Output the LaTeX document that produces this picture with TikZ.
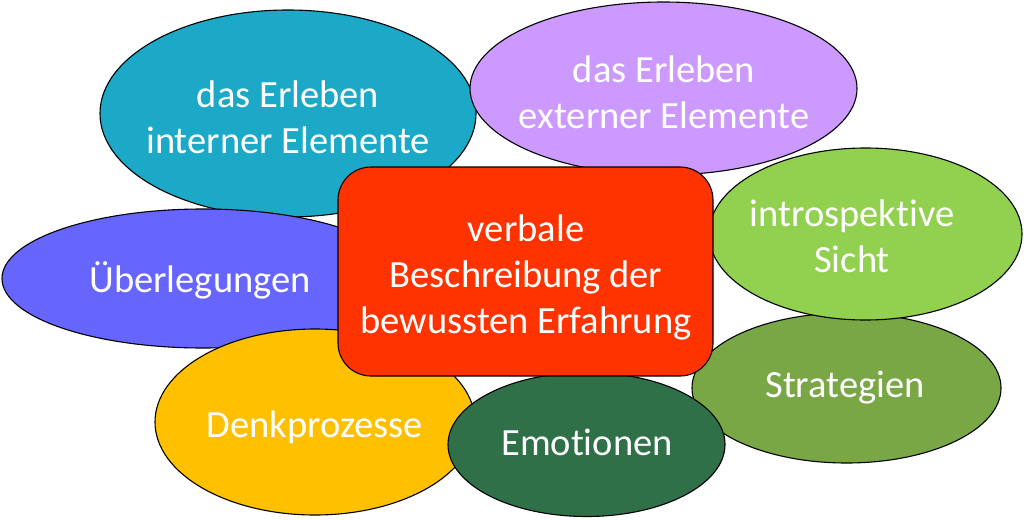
\documentclass[tikz,border=0pt]{standalone}
\usepackage{fontspec}
\setmainfont{Carlito}[Ligatures=NoCommon]
\usetikzlibrary{shapes.geometric}
\definecolor{cteal}{HTML}{1BA9C7}
\definecolor{cpurple}{HTML}{CC99FF}
\definecolor{clgreen}{HTML}{92D050}
\definecolor{cblue}{HTML}{6666FF}
\definecolor{cyellow}{HTML}{FFC000}
\definecolor{cdgreen}{HTML}{2F7049}
\definecolor{colive}{HTML}{79A746}
\definecolor{cred}{HTML}{FF3300}
\begin{document}
\begin{tikzpicture}[x=1pt,y=-1pt,
  blob/.style={ellipse, draw=black, line width=1.1pt, inner sep=0pt},
  centerbox/.style={rectangle, rounded corners=33pt, draw=black, line width=1.1pt, inner sep=0pt, fill=cred, minimum width=375pt, minimum height=209pt},
  lbl/.style={text=white, align=center, inner sep=0pt, font=\fontsize{38.5}{46}\selectfont}]
\useasboundingbox (0,0) rectangle (1024,519);
\node[blob, fill=cteal, minimum width=376pt, minimum height=207pt] (intern) at (288,113.5) {};
\node[blob, fill=cpurple, minimum width=387pt, minimum height=173pt] (extern) at (663.5,88.5) {};
\node[blob, fill=colive, minimum width=309pt, minimum height=150pt] (strat) at (846.5,388) {};
\node[blob, fill=clgreen, minimum width=313pt, minimum height=172pt] (intro) at (865.5,234) {};
\node[blob, fill=cblue, minimum width=402pt, minimum height=139pt] (ueber) at (203,278.5) {};
\node[blob, fill=cyellow, minimum width=320pt, minimum height=186pt] (denk) at (315,422) {};
\node[blob, fill=cdgreen, minimum width=277pt, minimum height=144pt] (emo) at (586.5,444.5) {};
\node[centerbox] (center) at (525.5,271.5) {};
\node[lbl] (interntext) at (288,117.5) {das Erleben\\interner Elemente};
\node[lbl] (externtext) at (664,92) {das Erleben\\externer Elemente};
\node[lbl] (introtext) at (852,236) {introspektive\\Sicht};
\node[lbl] (uebertext) at (200,280) {Überlegungen};
\node[lbl] (denktext) at (315,427) {Denkprozesse};
\node[lbl] (emotext) at (587,442) {Emotionen};
\node[lbl] (strattext) at (845,388) {Strategien};
\node[lbl] (centertext) at (526,277) {verbale\\Beschreibung der\\bewussten Erfahrung};
\end{tikzpicture}
\end{document}
